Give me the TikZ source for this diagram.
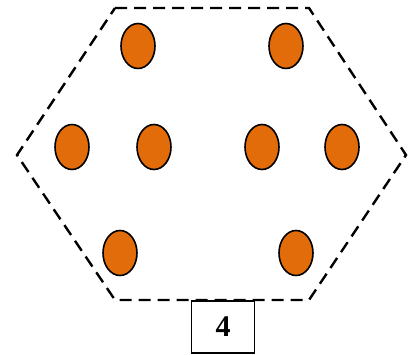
\documentclass[tikz,border=0pt]{standalone}
\usepackage{fontspec}
\setmainfont{Liberation Serif}
\usetikzlibrary{shapes.geometric}
\definecolor{seedorange}{RGB}{227,108,10}
\tikzset{
  seed/.style={draw, ellipse, fill=seedorange, line width=1.6pt,
    minimum width=34pt, minimum height=45pt, inner sep=0pt},
  border/.style={draw, dashed, line width=2.4pt, dash pattern=on 12pt off 7pt},
  tagbox/.style={draw, rectangle, fill=white, line width=1.4pt,
    minimum width=63pt, minimum height=52pt, font=\fontsize{30}{32}\selectfont\bfseries}
}
\begin{document}
\begin{tikzpicture}[x=1pt, y=-1pt]
    \useasboundingbox (0,0) rectangle (412,354);
    % Hexagonal outline
    \coordinate (h1) at (115,8);
    \coordinate (h2) at (309,8);
    \coordinate (h3) at (406,155);
    \coordinate (h4) at (309,300);
    \coordinate (h5) at (115,300);
    \coordinate (h6) at (17,155);
    \draw[border] (h1) -- (h2) -- (h3) -- (h4) -- (h5) -- (h6) -- cycle;

    % Seeds
    \node[seed] (s1) at (138,46) {};
    \node[seed] (s2) at (286,46) {};
    \node[seed] (s3) at (72,147) {};
    \node[seed] (s4) at (154,147) {};
    \node[seed] (s5) at (262,147) {};
    \node[seed] (s6) at (342,147) {};
    \node[seed] (s7) at (120,253) {};
    \node[seed] (s8) at (296,253) {};

    % Label
    \node[tagbox] (count) at (223,327) {4};
\end{tikzpicture}
\end{document}
